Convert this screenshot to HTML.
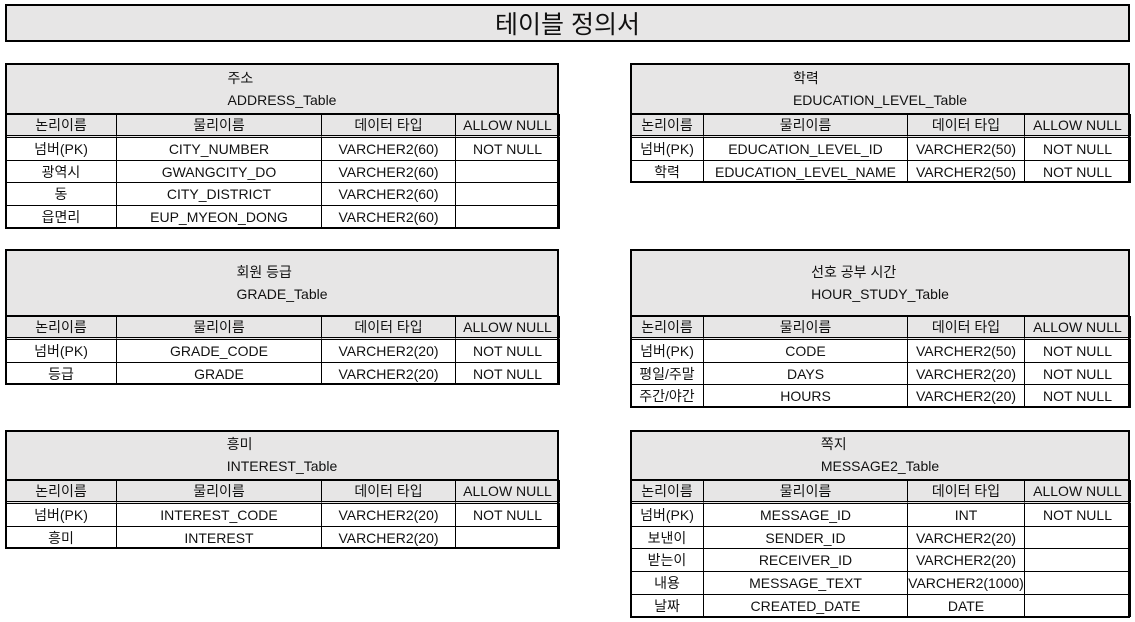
<!DOCTYPE html>
<html><head><meta charset="utf-8">
<style>
body{margin:0;width:1135px;height:622px;background:#fff;position:relative;overflow:hidden;font-family:"Liberation Sans","Noto Sans CJK KR","NanumGothic",sans-serif;color:#111}
.box{position:absolute;box-sizing:border-box}
.c{position:absolute;box-sizing:border-box;display:flex;align-items:center;justify-content:center;font-size:14px;white-space:nowrap;overflow:visible}
</style></head><body>
<div class="box" style="left:5px;top:4px;width:1125px;height:38px;border:2px solid #000;background:#e7e6e6;display:flex;align-items:center;justify-content:center;font-size:25px">테이블 정의서</div>
<div id="root"></div>
<script>
const tableNames=[["주소","ADDRESS_Table"],["학력","EDUCATION_LEVEL_Table"],["회원 등급","GRADE_Table"],["선호 공부 시간","HOUR_STUDY_Table"],["흥미","INTEREST_Table"],["쪽지","MESSAGE2_Table"]];
const headers=["논리이름","물리이름","데이터 타입","ALLOW NULL"];
const tableRows=[
[["넘버(PK)","CITY_NUMBER","VARCHER2(60)","NOT NULL"],["광역시","GWANGCITY_DO","VARCHER2(60)",""],["동","CITY_DISTRICT","VARCHER2(60)",""],["읍면리","EUP_MYEON_DONG","VARCHER2(60)",""]],
[["넘버(PK)","EDUCATION_LEVEL_ID","VARCHER2(50)","NOT NULL"],["학력","EDUCATION_LEVEL_NAME","VARCHER2(50)","NOT NULL"]],
[["넘버(PK)","GRADE_CODE","VARCHER2(20)","NOT NULL"],["등급","GRADE","VARCHER2(20)","NOT NULL"]],
[["넘버(PK)","CODE","VARCHER2(50)","NOT NULL"],["평일/주말","DAYS","VARCHER2(20)","NOT NULL"],["주간/야간","HOURS","VARCHER2(20)","NOT NULL"]],
[["넘버(PK)","INTEREST_CODE","VARCHER2(20)","NOT NULL"],["흥미","INTEREST","VARCHER2(20)",""]],
[["넘버(PK)","MESSAGE_ID","INT","NOT NULL"],["보낸이","SENDER_ID","VARCHER2(20)",""],["받는이","RECEIVER_ID","VARCHER2(20)",""],["내용","MESSAGE_TEXT","VARCHER2(1000)",""],["날짜","CREATED_DATE","DATE",""]]
];
const layout=[{x:5,y:63,h:51,cols:[5,116,321,455,559]},{x:630,y:63,h:51,cols:[630,703,907,1024,1130]},
{x:5,y:249,h:67,cols:[5,116,321,455,559]},{x:630,y:249,h:67,cols:[630,703,907,1024,1130]},
{x:5,y:430,h:50,cols:[5,116,321,455,559]},{x:630,y:430,h:50,cols:[630,703,907,1024,1130]}];
const root=document.getElementById('root');
tableNames.forEach((tn,ti)=>{
 const L=layout[ti],cols=L.cols,w=cols[4]-cols[0];
 const rows=tableRows[ti];
 const rh=22.7,hh=23;
 const total=L.h+hh+rows.length*rh+1;
 const t=document.createElement('div');
 t.className='box';
 
 
 t.style.cssText=`left:${L.x}px;top:${L.y}px;width:${w}px;height:${total}px;border:2px solid #000;z-index:5;pointer-events:none;`;
 root.appendChild(t);
 const title=document.createElement('div');
 title.className='c';
 
 
 title.style.cssText=`left:${L.x}px;top:${L.y}px;width:${w}px;height:${L.h}px;background:#e7e6e6;flex-direction:column;line-height:22px;padding-top:1px;border-bottom:1px solid #000`;
 title.innerHTML=tn[0]+'<br>'+tn[1];
 root.appendChild(title);
 const mk=(txt,ci,y,h,bg,name,extra)=>{
  const d=document.createElement('div');
  d.className='c';
  
  
  d.style.cssText=`left:${cols[ci]}px;top:${y}px;width:${cols[ci+1]-cols[ci]+1}px;height:${h+1}px;background:${bg};border:1px solid #000;${extra||''}`;
  d.textContent=txt;
  root.appendChild(d);
 };
 headers.forEach((hd,ci)=>mk(hd,ci,L.y+L.h,hh,'#e7e6e6','column-header','border-bottom:3px double #000'));
 rows.forEach((r,ri)=>r.forEach((v,ci)=>mk(v,ci,L.y+L.h+hh+ri*rh,rh,'#fff','table-cell')));
});
</script>
</body></html>
